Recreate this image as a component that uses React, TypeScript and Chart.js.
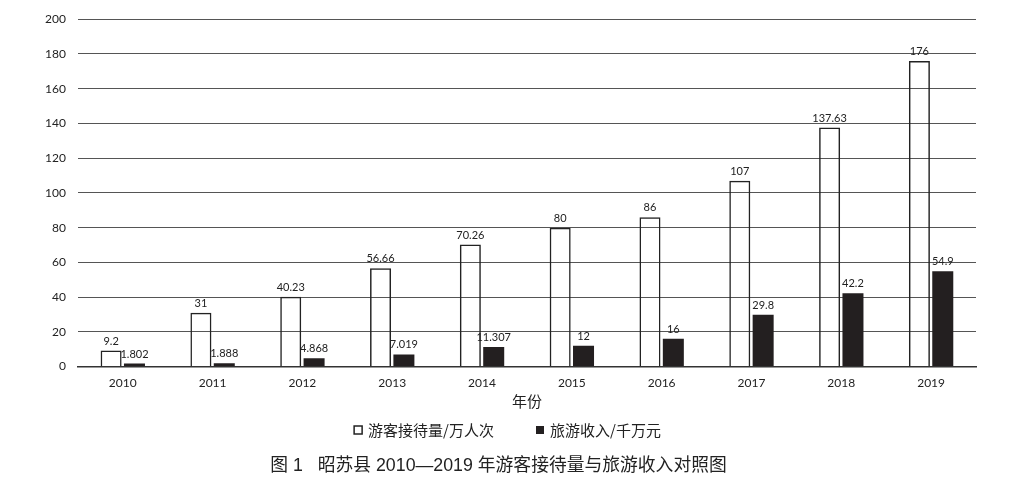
import React, { useEffect, useRef } from "react";
import { Chart, registerables } from "chart.js";

Chart.register(...registerables);

const years = ["2010", "2011", "2012", "2013", "2014", "2015", "2016", "2017", "2018", "2019"];
const visitors = [9.2, 31, 40.23, 56.66, 70.26, 80, 86, 107, 137.63, 176];
const revenue = [1.802, 1.888, 4.868, 7.019, 11.307, 12, 16, 29.8, 42.2, 54.9];
const visitorsLabel = "游客接待量/万人次";
const revenueLabel = "旅游收入/千万元";
const xTitle = "年份";
const chartTitle = "图 1   昭苏县 2010—2019 年游客接待量与旅游收入对照图";

const NUM_FONT = "Lato, 'Noto Sans', sans-serif";
const CJK_FONT = "'Noto Sans CJK SC', 'Noto Sans', sans-serif";
const TITLE_FONT = "'Liberation Sans', 'Noto Sans CJK SC', sans-serif";

const valueLabels = {
  id: "valueLabels",
  afterDatasetsDraw(chart: any) {
    const ctx = chart.ctx;
    ctx.save();
    ctx.font = "11px " + NUM_FONT;
    ctx.fillStyle = "#222";
    ctx.textAlign = "center";
    ctx.textBaseline = "bottom";
    chart.data.datasets.forEach((ds: any, i: number) => {
      const meta = chart.getDatasetMeta(i);
      meta.data.forEach((el: any, j: number) => {
        ctx.fillText(String(ds.data[j]), el.x, el.y - 4);
      });
    });
    ctx.restore();
  },
};

const legendAndTitle = {
  id: "legendAndTitle",
  afterDraw(chart: any) {
    const ctx = chart.ctx;
    const ds = chart.data.datasets;
    ctx.save();
    // legend
    ctx.font = "15px " + CJK_FONT;
    ctx.textBaseline = "middle";
    ctx.textAlign = "left";
    const box = 8;
    const gapText = 6;
    const gapItems = 42;
    const widths = ds.map((d: any) => box + gapText + ctx.measureText(d.label).width);
    const total = widths.reduce((a: number, b: number) => a + b, 0) + gapItems * (ds.length - 1);
    let x = chart.width / 2 - total / 2 + 2;
    const ly = chart.height - 56;
    ds.forEach((d: any, i: number) => {
      if (d.borderWidth > 0) {
        ctx.lineWidth = 1.5;
        ctx.strokeStyle = "#222";
        ctx.fillStyle = "#fff";
        ctx.fillRect(x, ly - box / 2, box, box);
        ctx.strokeRect(x, ly - box / 2, box, box);
      } else {
        ctx.fillStyle = d.backgroundColor;
        ctx.fillRect(x, ly - box / 2, box, box);
      }
      ctx.fillStyle = "#222";
      ctx.fillText(d.label, x + box + gapText, ly);
      x += widths[i] + gapItems;
    });
    // title
    ctx.font = "17.8px " + TITLE_FONT;
    ctx.textAlign = "center";
    ctx.fillStyle = "#222";
    ctx.fillText(chartTitle, chart.width / 2 - 7, chart.height - 20);
    ctx.restore();
  },
};

export default function App() {
  const ref = useRef<HTMLCanvasElement>(null);
  useEffect(() => {
    const chart = new Chart(ref.current!, {
      type: "bar",
      data: {
        labels: years,
        datasets: [
          {
            label: visitorsLabel,
            data: visitors,
            backgroundColor: "rgba(255,255,255,0)",
            borderColor: "#222",
            borderWidth: 1.5,
            barPercentage: 0.9,
            categoryPercentage: 0.52,
          },
          {
            label: revenueLabel,
            data: revenue,
            backgroundColor: "#231f20",
            borderColor: "#231f20",
            borderWidth: 0,
            barPercentage: 0.9,
            categoryPercentage: 0.52,
          },
        ],
      },
      options: {
        animation: false,
        responsive: true,
        maintainAspectRatio: false,
        layout: { padding: { left: 33, right: 35, top: 17, bottom: 74 } },
        scales: {
          x: {
            grid: { display: false, drawTicks: false },
            border: { display: true, color: "#333", width: 1.5 },
            ticks: { color: "#222", font: { size: 12, family: NUM_FONT }, padding: 9 },
            title: {
              display: true,
              text: xTitle,
              color: "#222",
              font: { size: 15, family: CJK_FONT },
              padding: { top: -7, bottom: 2 },
            },
          },
          y: {
            min: 0,
            max: 200,
            ticks: { stepSize: 20, color: "#222", font: { size: 12, family: NUM_FONT }, padding: 12 },
            grid: { color: "#555", lineWidth: 1, drawTicks: false },
            border: { display: false },
          },
        },
        plugins: {
          legend: { display: false },
          title: { display: false },
          tooltip: { enabled: false },
        },
      },
      plugins: [valueLabels, legendAndTitle],
    });
    return () => chart.destroy();
  }, []);
  return (
    <div style={{ position: "fixed", left: 0, top: 0, width: 1011, height: 486, background: "#fff" }}>
      <canvas ref={ref} />
    </div>
  );
}
